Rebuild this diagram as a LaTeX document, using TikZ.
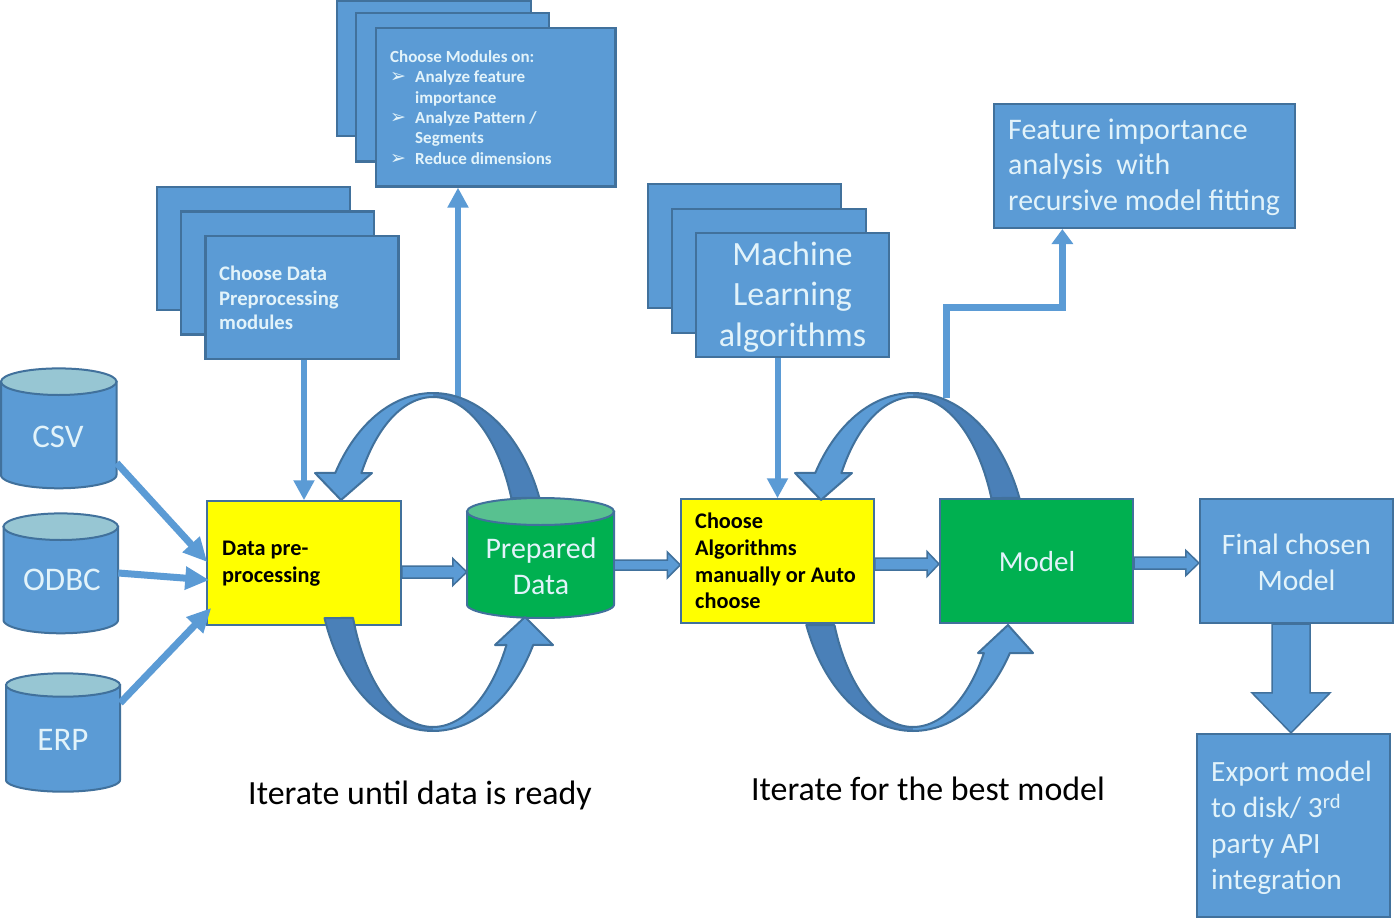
\documentclass[tikz,border=0pt]{standalone}
\usepackage{fontspec}
\setmainfont{Carlito}
\newfontfamily\djv{DejaVu Sans}
\usetikzlibrary{arrows.meta,calc}
\definecolor{bfill}{HTML}{5B9BD5}
\definecolor{bline}{HTML}{41719C}
\definecolor{bdark}{HTML}{4A80B8}
\definecolor{txtc}{HTML}{E2F3FA}
\definecolor{gfill}{HTML}{00B050}
\definecolor{gtop}{HTML}{58C190}
\definecolor{ctop}{HTML}{97C6D3}
\definecolor{yfill}{HTML}{FFFF00}
\newcommand\bul{\makebox[25pt][l]{\djv\mdseries\fontsize{19}{19}\selectfont ➢}}
\newcommand\ind{\hspace*{25pt}}
\newcommand\cyl[7]{%
 \pgfmathsetmacro\cyx{(#1+#2)/2}%
 \pgfmathsetmacro\cyr{(#2-#1)/2}%
 \filldraw[draw=bline, line width=2pt, fill=#6] (#1,#3) -- (#1,#4) -- plot[domain=180:0, samples=40] ({\cyx+\cyr*cos(\x)},{#4+#5*sin(\x)}) -- (#2,#3) -- cycle;
 \filldraw[draw=bline, line width=2pt, fill=#7] (\cyx,#3) ellipse [x radius=\cyr, y radius=#5];
}
\newcommand\harrow[5]{%
 \draw[blk] let \p1=(#1), \p2=(#2) in
 ({\x1},{\y1+#3pt}) -- ({\x2-#5pt},{\y1+#3pt}) -- ({\x2-#5pt},{\y1+#4pt}) -- ({\x2},{\y1}) --
 ({\x2-#5pt},{\y1-#4pt}) -- ({\x2-#5pt},{\y1-#3pt}) -- ({\x1},{\y1-#3pt}) -- cycle;
}
\newcommand\varrow[5]{%
 \draw[blk] let \p1=(#1), \p2=(#2) in
 ({\x1-#3pt},{\y1}) -- ({\x1-#3pt},{\y2+#5pt}) -- ({\x1-#4pt},{\y2+#5pt}) -- ({\x1},{\y2}) --
 ({\x1+#4pt},{\y2+#5pt}) -- ({\x1+#3pt},{\y2+#5pt}) -- ({\x1+#3pt},{\y1}) -- cycle;
}
\newcommand\looparrow[9]{%
 \fill[bdark] plot[domain=-22.3:-90,samples=30] ({#1+115*cos(\x)},{562+169*sin(\x)}) -- plot[domain=-90:-22.8,samples=30] ({#1+85*cos(\x)},{562+165*sin(\x)}) -- cycle;
 \fill[bfill] plot[domain=-90:-148.2,samples=30] ({#1+115*cos(\x)},{562+169*sin(\x)}) -- ({#1-118},473) -- ({#1-92},500) -- ({#1-61},473) -- plot[domain=-147.4:-90,samples=30] ({#1+85*cos(\x)},{562+165*sin(\x)}) -- cycle;
 \draw[ringline] plot[domain=-22.3:-148.2,samples=60] ({#1+115*cos(\x)},{562+169*sin(\x)}) -- ({#1-118},473) -- ({#1-92},500) -- ({#1-61},473) -- plot[domain=-147.4:-22.8,samples=60] ({#1+85*cos(\x)},{562+165*sin(\x)}) -- cycle;
 \fill[bdark] plot[domain=#2:90,samples=30] ({#1+115*cos(\x)},{562+169*sin(\x)}) -- plot[domain=90:#3,samples=30] ({#1+85*cos(\x)},{562+165*sin(\x)}) -- cycle;
 \fill[bfill] plot[domain=90:#4,samples=30] ({#1+115*cos(\x)},{562+169*sin(\x)}) -- ({#1+120},#6) -- ({#1+#8},#9) -- ({#1+#7},#6) -- plot[domain=#5:90,samples=30] ({#1+85*cos(\x)},{562+165*sin(\x)}) -- cycle;
 \draw[ringline] plot[domain=#2:#4,samples=60] ({#1+115*cos(\x)},{562+169*sin(\x)}) -- ({#1+120},#6) -- ({#1+#8},#9) -- ({#1+#7},#6) -- plot[domain=#5:#3,samples=60] ({#1+85*cos(\x)},{562+165*sin(\x)}) -- cycle;
}
\begin{document}
\begin{tikzpicture}[x=1pt,y=-1pt,
  bbox/.style={draw=bline, line width=2.2pt, fill=bfill, inner sep=0pt},
  ybox/.style={draw=bline, line width=1.5pt, fill=yfill, inner sep=0pt},
  gbox/.style={draw=bline, line width=2pt, fill=gfill, inner sep=0pt},
  frame/.style={inner sep=0pt, draw=none},
  wtxt/.style={inner sep=0pt, align=left, text=txtc},
  ctxt/.style={inner sep=0pt, align=center, text=txtc},
  ktxt/.style={inner sep=0pt, align=left, text=black, font=\bfseries\fontsize{22.3}{26.7}\selectfont},
  conn/.style={draw=bfill, line width=6pt, -{Triangle[width=20pt,length=20pt]}},
  sconn/.style={draw=bfill, line width=7pt, -{Triangle[width=22pt,length=24pt]}},
  fconn/.style={draw=bfill, line width=7pt, -{Triangle[width=21pt,length=15pt]}},
  blk/.style={draw=bline, line width=1.5pt, fill=bfill, line join=miter},
  ringline/.style={draw=bline, line width=2pt, line join=round},
]
\useasboundingbox[fill=white] (0,0) rectangle (1400,920);

% stack 1
\node[bbox, minimum width=193pt, minimum height=123pt] (s1a) at (253.5,248.5) {};
\node[bbox, minimum width=193pt, minimum height=123pt] (s1b) at (277.5,273) {};
\node[bbox, minimum width=193pt, minimum height=123pt] (cdp) at (302,297.5) {};
\node[wtxt, anchor=west, font=\bfseries\fontsize{20.7}{24.5}\selectfont] (cdptxt) at (219,298) {Choose Data\\Preprocessing\\modules};

% stack 2
\node[bbox, minimum width=194pt, minimum height=135pt] (s2a) at (434,68.5) {};
\node[bbox, minimum width=193pt, minimum height=148.5pt] (s2b) at (452.5,87.2) {};
\node[bbox, minimum width=239.5pt, minimum height=158.5pt] (mods) at (495.75,107.25) {};
\node[wtxt, anchor=west, font=\bfseries\fontsize{17}{20.3}\selectfont] (modstxt) at (390,107.5) {Choose Modules on:\\
\bul Analyze feature\\
\ind importance\\
\bul Analyze Pattern /\\
\ind Segments\\
\bul Reduce dimensions};

% stack 3
\node[bbox, minimum width=193pt, minimum height=124pt] (s3a) at (744.5,246) {};
\node[bbox, minimum width=194pt, minimum height=124pt] (s3b) at (769,271) {};
\node[bbox, minimum width=193pt, minimum height=124pt] (ml) at (792.5,295) {};
\node[ctxt, font=\fontsize{34}{40.5}\selectfont] (mltxt) at (792.5,297) {Machine\\Learning\\algorithms};

% feature importance
\node[bbox, minimum width=301pt, minimum height=124pt] (fi) at (1144.5,166) {};
\node[wtxt, anchor=west, font=\fontsize{29.9}{35.5}\selectfont] (fitxt) at (1008,167) {Feature importance\\analysis\ \ with\\recursive model fitting};

% cylinders
\cyl{1}{116.5}{381.7}{475}{13.3}{bfill}{ctop}
\cyl{3.5}{118}{526.7}{620}{13.3}{bfill}{ctop}
\cyl{6}{120}{685}{780}{11.7}{bfill}{ctop}
\cyl{467}{614}{511.5}{604.5}{13.5}{gfill}{gtop}
\node[frame, minimum width=115.5pt, minimum height=120pt] (csv) at (58.75,428) {};
\node[frame, minimum width=114.5pt, minimum height=120pt] (odbc) at (60.75,573) {};
\node[frame, minimum width=114pt, minimum height=119pt] (erp) at (63,732.5) {};
\node[frame, minimum width=147pt, minimum height=120pt] (pd) at (540.5,558) {};
\node[ctxt, font=\fontsize{33}{38}\selectfont] (csvtxt) at (58,437) {CSV};
\node[ctxt, font=\fontsize{33}{38}\selectfont] (odbctxt) at (62,580) {ODBC};
\node[ctxt, font=\fontsize{33}{38}\selectfont] (erptxt) at (63,740) {ERP};
\node[ctxt, font=\fontsize{29.9}{36}\selectfont] (pdtxt) at (541,566) {Prepared\\Data};

% main row boxes
\node[ybox, minimum width=194pt, minimum height=124pt] (dp) at (304,563) {};
\node[ktxt, anchor=west] (dptxt) at (222,564) {Data pre-\\processing};
\node[ybox, minimum width=193pt, minimum height=124pt] (ca) at (777.5,561) {};
\node[ktxt, anchor=west] (catxt) at (695,561) {Choose\\Algorithms\\manually or Auto\\choose};
\node[gbox, minimum width=193pt, minimum height=124pt] (model) at (1036.5,561) {};
\node[ctxt, font=\fontsize{29}{34}\selectfont] (modeltxt) at (1037,562) {Model};
\node[bbox, minimum width=193pt, minimum height=124pt] (fm) at (1296.5,561) {};
\node[ctxt, font=\fontsize{29.6}{36}\selectfont] (fmtxt) at (1296.5,562) {Final chosen\\Model};
\node[bbox, minimum width=193pt, minimum height=183pt] (ex) at (1293.5,825.5) {};
\node[wtxt, anchor=west, font=\fontsize{29.4}{36}\selectfont] (extxt) at (1211,828) {Export model\\to disk/ 3\textsuperscript{rd}\\party API\\integration};

% captions
\node[inner sep=0pt, font=\fontsize{33.9}{38}\selectfont] (cap1) at (420,795) {Iterate until data is ready};
\node[inner sep=0pt, font=\fontsize{33.9}{38}\selectfont] (cap2) at (928,789) {Iterate for the best model};

% connectors
\coordinate (lapex) at (458,397);
\coordinate (rapex) at (946.5,398);
\draw[sconn] ($(csv.east)+(0,35)$) -- ($(dp.west)+(1,-1)$);
\draw[sconn] (odbc.east) -- ($(dp.west)+(3,17)$);
\draw[sconn] ($(erp.east)+(0,-29.5)$) -- ($(dp.west)+(5,45)$);
\draw[conn] (dp.north |- cdp.south) -- (dp.north);
\draw[conn] (ca.north |- ml.south) -- (ca.north);
\draw[conn] (lapex) -- (lapex |- mods.south);
\draw[fconn] (rapex) -- ++(0,-90.5) -| ($(fi.south west)+(69.5,0)$);

\harrow{$(dp.east)+(0,9)$}{pd.west}{6}{13.5}{14}
\harrow{$(pd.east)+(0,7)$}{ca.west}{5}{13}{13}
\harrow{$(ca.east)+(0,3)$}{model.west}{6}{12.5}{12}
\harrow{$(model.east)+(0,2)$}{fm.west}{6}{12.5}{13}
\varrow{$(fm.south)+(-5.5,0)$}{ex.north}{19}{39}{40}

% loops
\looparrow{433}{160.6}{160.2}{29.4}{30.2}{645}{62}{92}{617}
\looparrow{913}{158.1}{157.5}{32.6}{33.5}{653}{65}{95}{625}
\end{tikzpicture}
\end{document}
